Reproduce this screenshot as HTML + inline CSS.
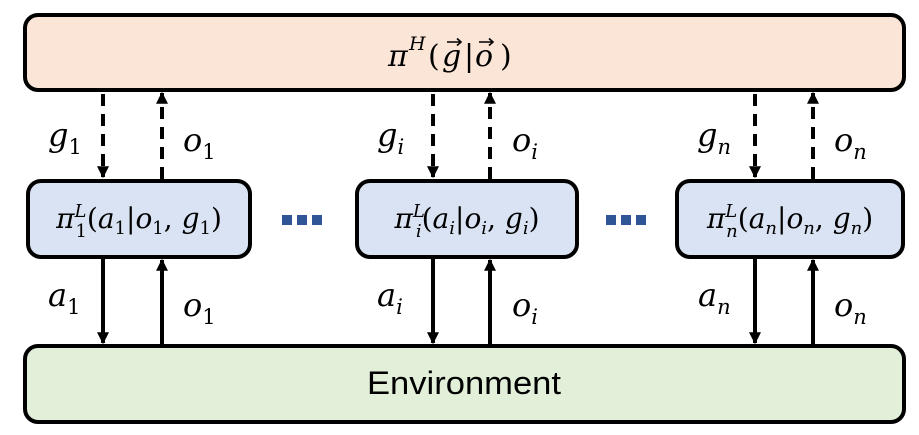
<!DOCTYPE html>
<html><head><meta charset="utf-8"><style>
html,body{margin:0;padding:0;background:#fff;}
svg{display:block;}
.m{font-family:"DejaVu Serif","Liberation Serif",serif;font-style:italic;fill:#000;}
.u{font-style:normal;}
</style></head><body>
<svg width="919" height="435" viewBox="0 0 919 435" xmlns="http://www.w3.org/2000/svg">
<defs>
<marker id="ahb" viewBox="0 0 10 10" refX="9" refY="5" markerWidth="12" markerHeight="12" orient="auto" markerUnits="userSpaceOnUse"><path d="M0,0 L10,5 L0,10 Z" fill="#000"/></marker>
</defs>
<rect x="25" y="15" width="879" height="75" rx="13" fill="#fbe5d6" stroke="#000" stroke-width="4"/>
<g class="m" font-size="30">
<text x="388" y="66">π</text>
<text x="409" y="50" font-size="19">H</text>
<text x="428" y="66" class="u">(</text>
<text x="442" y="66">g</text>
<text x="464" y="66" class="u">|</text>
<text x="475" y="66">o</text>
<text x="500" y="66" class="u">)</text>
<g stroke="#000" stroke-width="1.6" fill="none">
<path d="M447 42 H461 M457 38.5 L461 42 L457 45.5"/>
<path d="M479 42 H493 M489 38.5 L493 42 L489 45.5"/>
</g>
</g>

<rect x="28" y="181" width="222" height="76" rx="13" fill="#dae3f3" stroke="#000" stroke-width="4"/>
<text class="m" x="139" y="228" font-size="28" text-anchor="middle">π<tspan font-size="18" dy="-11">L</tspan><tspan font-size="18" dx="-11" dy="20" class="u">1</tspan><tspan dy="-9" class="u">(</tspan>a<tspan font-size="18" dy="6" class="u">1</tspan><tspan dy="-6" class="u">|</tspan>o<tspan font-size="18" dy="6" class="u">1</tspan><tspan dy="-6" class="u">, </tspan>g<tspan font-size="18" dy="6" class="u">1</tspan><tspan dy="-6" class="u">)</tspan></text>

<rect x="357" y="181" width="220" height="76" rx="13" fill="#dae3f3" stroke="#000" stroke-width="4"/>
<text class="m" x="467" y="228" font-size="28" text-anchor="middle">π<tspan font-size="18" dy="-11">L</tspan><tspan font-size="18" dx="-9" dy="20">i</tspan><tspan dy="-9" class="u">(</tspan>a<tspan font-size="18" dy="6">i</tspan><tspan dy="-6" class="u">|</tspan>o<tspan font-size="18" dy="6">i</tspan><tspan dy="-6" class="u">, </tspan>g<tspan font-size="18" dy="6">i</tspan><tspan dy="-6" class="u">)</tspan></text>

<rect x="677" y="181" width="226" height="76" rx="13" fill="#dae3f3" stroke="#000" stroke-width="4"/>
<text class="m" x="790" y="228" font-size="28" text-anchor="middle">π<tspan font-size="18" dy="-11">L</tspan><tspan font-size="18" dx="-11" dy="20">n</tspan><tspan dy="-9" class="u">(</tspan>a<tspan font-size="18" dy="6">n</tspan><tspan dy="-6" class="u">|</tspan>o<tspan font-size="18" dy="6">n</tspan><tspan dy="-6" class="u">, </tspan>g<tspan font-size="18" dy="6">n</tspan><tspan dy="-6" class="u">)</tspan></text>

<g fill="#2f5597">
<rect x="282" y="215" width="10" height="10"/><rect x="297" y="215" width="10" height="10"/><rect x="312" y="215" width="10" height="10"/></g>
<g fill="#2f5597">
<rect x="606" y="215" width="10" height="10"/><rect x="621" y="215" width="10" height="10"/><rect x="636" y="215" width="10" height="10"/></g>

<rect x="25" y="346" width="879" height="76" rx="13" fill="#e2f0d9" stroke="#000" stroke-width="4"/>
<text x="464" y="394" font-family="Liberation Sans, sans-serif" font-size="32" text-anchor="middle" textLength="194" lengthAdjust="spacingAndGlyphs">Environment</text>

<g stroke="#000" stroke-width="4" fill="none">
<line x1="103" y1="94" x2="103" y2="177" stroke-dasharray="12,8" marker-end="url(#ahb)"/>
<line x1="162" y1="179" x2="162" y2="93" stroke-dasharray="12,8" marker-end="url(#ahb)"/>
<line x1="433" y1="94" x2="433" y2="177" stroke-dasharray="12,8" marker-end="url(#ahb)"/>
<line x1="490" y1="179" x2="490" y2="93" stroke-dasharray="12,8" marker-end="url(#ahb)"/>
<line x1="755" y1="94" x2="755" y2="177" stroke-dasharray="12,8" marker-end="url(#ahb)"/>
<line x1="813" y1="179" x2="813" y2="93" stroke-dasharray="12,8" marker-end="url(#ahb)"/>
<line x1="103" y1="259" x2="103" y2="343" marker-end="url(#ahb)"/>
<line x1="162" y1="344" x2="162" y2="260" marker-end="url(#ahb)"/>
<line x1="433" y1="259" x2="433" y2="343" marker-end="url(#ahb)"/>
<line x1="490" y1="344" x2="490" y2="260" marker-end="url(#ahb)"/>
<line x1="755" y1="259" x2="755" y2="343" marker-end="url(#ahb)"/>
<line x1="813" y1="344" x2="813" y2="260" marker-end="url(#ahb)"/>
</g>

<g class="m" font-size="32">
<text x="48" y="146">g<tspan font-size="21" dy="8" class="u">1</tspan></text>
<text x="183" y="151">o<tspan font-size="21" dy="8" class="u">1</tspan></text>
<text x="377" y="146">g<tspan font-size="21" dy="8">i</tspan></text>
<text x="512" y="151">o<tspan font-size="21" dy="8">i</tspan></text>
<text x="697" y="146">g<tspan font-size="21" dy="8">n</tspan></text>
<text x="834" y="151">o<tspan font-size="21" dy="8">n</tspan></text>
<text x="48" y="306">a<tspan font-size="21" dy="8" class="u">1</tspan></text>
<text x="183" y="316">o<tspan font-size="21" dy="8" class="u">1</tspan></text>
<text x="377" y="306">a<tspan font-size="21" dy="8">i</tspan></text>
<text x="512" y="316">o<tspan font-size="21" dy="8">i</tspan></text>
<text x="698" y="306">a<tspan font-size="21" dy="8">n</tspan></text>
<text x="834" y="316">o<tspan font-size="21" dy="8">n</tspan></text>
</g>
</svg>
</body></html>
